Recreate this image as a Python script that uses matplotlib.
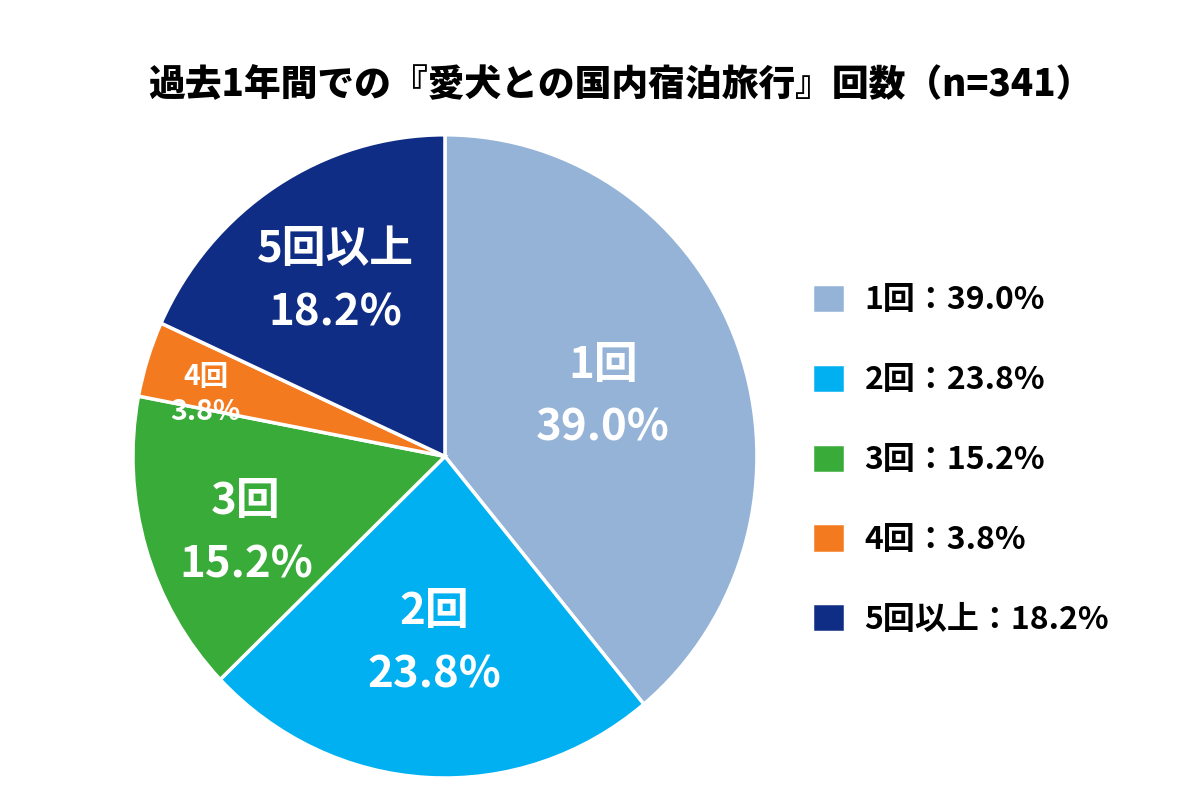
import numpy as np
import matplotlib
matplotlib.use("Agg")
import matplotlib.pyplot as plt

plt.rcParams['font.family'] = ['Noto Sans CJK JP', 'DejaVu Sans']

labels = ['1回', '2回', '3回', '4回', '5回以上']
values = [39.0, 23.8, 15.2, 3.8, 18.2]
colors = ['#95b3d7', '#00b0f0', '#38ab38', '#f47a1f', '#0f2d84']
title = '過去1年間での『愛犬との国内宿泊旅行』回数（n=341）'

# label placement: radius, angle shift (deg), font size, line spacing
label_r = [0.54, 0.58, 0.68, 0.79, 0.65]
label_dang = [0.5, 0.0, 3.8, 3.6, 0.0]
label_fs = [31.5, 31.5, 31.5, 20.5, 31.5]
label_ls = [1.55, 1.55, 1.55, 1.3, 1.55]

fig = plt.figure(figsize=(12, 8), dpi=100)
ax = fig.add_axes([0.1108, 0.0275, 0.52, 0.804])
wedges, _ = ax.pie(values, colors=colors, startangle=90, counterclock=False,
                   wedgeprops=dict(edgecolor='white', linewidth=2.5))
ax.set_xlim(-1.0, 1.0)
ax.set_ylim(-1.0, 1.0)
ax.set_aspect('auto')

for w, lab, v, r, da, fs, ls in zip(wedges, labels, values, label_r, label_dang,
                                    label_fs, label_ls):
    ang = np.deg2rad((w.theta1 + w.theta2) / 2 + da)
    ax.text(r * np.cos(ang), r * np.sin(ang), f'{lab}\n{v:.1f}%',
            ha='center', va='center', color='white', fontsize=fs,
            fontweight='bold', linespacing=ls)

fig.text(0.517, 0.894, title, ha='center', va='center', fontsize=26.5,
         fontweight='heavy')

leg_labels = [f'{l}：{v:.1f}%' for l, v in zip(labels, values)]
fig.legend(wedges, leg_labels, loc='upper left', bbox_to_anchor=(0.653, 0.681),
           frameon=False, handlelength=1.03, handleheight=1.03,
           labelspacing=1.48, handletextpad=0.6,
           prop=dict(weight='bold', size=23))

fig.savefig('out.png', dpi=100, facecolor='white')
